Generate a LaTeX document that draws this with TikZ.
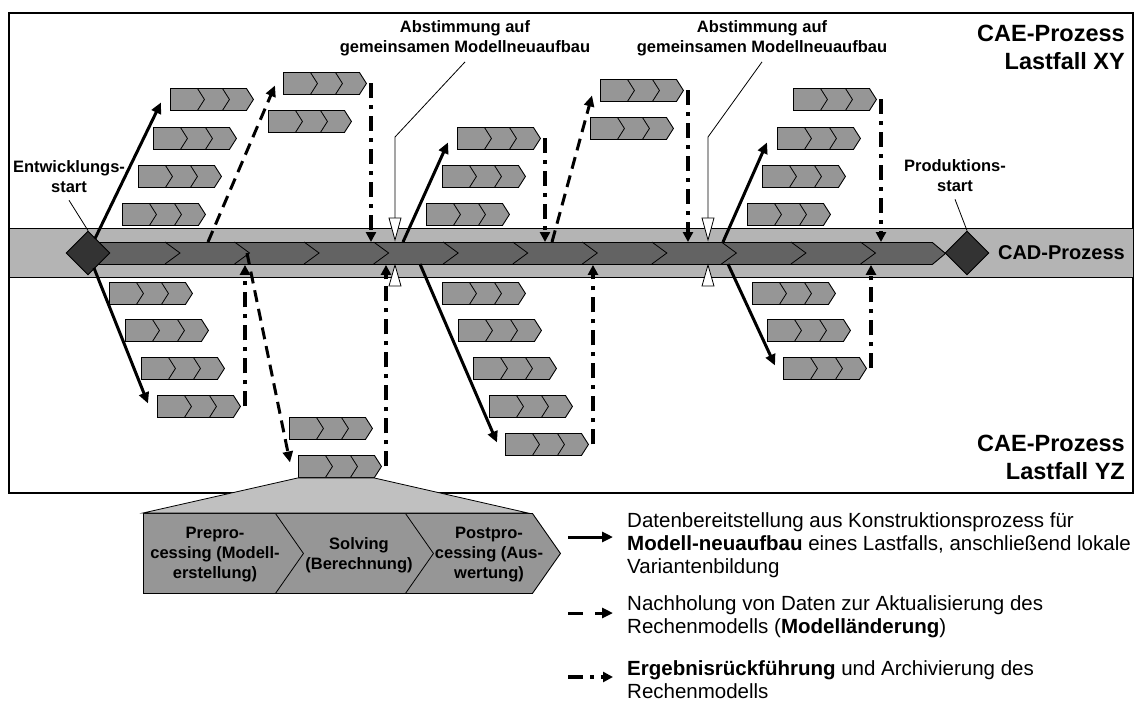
\documentclass[tikz,border=0pt]{standalone}
\usepackage{fontspec}
\setmainfont{Liberation Sans}
\definecolor{caegray}{RGB}{150,150,150}
\definecolor{cadgray}{RGB}{99,99,99}
\definecolor{bandgray}{RGB}{180,180,180}
\definecolor{zoomgray}{RGB}{192,192,192}
\definecolor{msgray}{RGB}{51,51,51}
\usetikzlibrary{calc}
\usetikzlibrary{positioning}
\usetikzlibrary{arrows.meta,shapes.geometric,shapes.symbols}

\tikzset{
  cae/.style={signal, signal to=east, signal pointer angle=115, draw, fill=caegray,
    line width=0.9pt, minimum width=83pt, minimum height=22pt, inner sep=0pt, anchor=north west,
    path picture={
      \foreach \d in {27,52}
        \draw[line width=0.8pt] ([xshift=\d pt]path picture bounding box.north west) -- ++(7pt,-11pt) -- ++(-7pt,-11pt);
    }},
  milestone/.style={diamond, draw, fill=msgray, line width=0.9pt, minimum size=44pt, inner sep=0pt},
  neubau/.style={line width=3pt, -{Triangle[length=11pt,width=10pt]}},
  aenderung/.style={line width=3pt, dash pattern=on 12pt off 7pt, -{Triangle[length=11pt,width=10pt]}},
  rueck/.style={line width=3.5pt, dash pattern=on 15pt off 7pt on 4pt off 7pt, -{Triangle[length=10pt,width=10pt]}},
  lbl/.style={font=\fontsize{16.5}{20}\selectfont\bfseries, align=center, inner sep=0pt},
  caelabel/.style={font=\fontsize{23.5}{28}\selectfont\bfseries, align=right, inner sep=0pt, anchor=east},
  legend/.style={font=\fontsize{20.5}{23}\selectfont, align=left, inner sep=0pt, anchor=base west},
  marktri/.style={fill=white, draw, line width=0.8pt}
}

\begin{document}
\begin{tikzpicture}[x=1pt, y=-1pt]
  \useasboundingbox (0,0) rectangle (1141,702);

  % frame, CAD band and the CAD chevron strip
  \draw[line width=1.3pt] (9,13) rectangle (1133,493);
  \node[draw, line width=1.3pt, fill=bandgray, minimum width=1124pt, minimum height=49pt, inner sep=0pt, anchor=north west] (cad) at (9,228) {};
  \node[signal, signal to=east, signal pointer angle=80, draw, fill=cadgray, line width=0.9pt, minimum width=850pt, minimum height=22pt, inner sep=0pt, anchor=north west] (strip) at (95,242) {};
  \foreach \i in {0,...,10}
    \draw[line width=0.8pt] ($(strip.north west)+(70+69.55*\i,0)$) -- ++(15,11) -- ++(-15,11);

  \node[milestone] (dstart) at (88,253) {};
  \node[milestone] (dend) at (967,253) {};
  \node[font=\fontsize{20}{24}\selectfont\bfseries, anchor=east, inner sep=0pt] (cadlabel) at (1125,253) {CAD-Prozess};

  % CAE boxes, load case XY (above) and YZ (below)
  \foreach \n/\x/\y in {A1/170/88, A2/153/127, A3/138/165, A4/122/203, B1/283/72, B2/268/110,
                        C1/457/127, C2/442/165, C3/426/203, D1/600/79, D2/590/117,
                        E1/793/88, E2/777/127, E3/762/165, E4/747/203}
    \node[cae] (\n) at (\x,\y) {};
  \foreach \n/\x/\y in {F1/109/282, F2/125/319, F3/141/357, F4/157/395, G1/289/417, G2/298/455,
                        H1/442/282, H2/458/319, H3/473/357, H4/489/395, H5/505/433,
                        I1/752/282, I2/767/319, I3/783/357}
    \node[cae] (\n) at (\x,\y) {};

  \coordinate (n1) at (403,242);
  \coordinate (n2) at (420,264);
  \coordinate (n3) at (723,242);
  \coordinate (n4) at (728,264);
  \coordinate (m1) at (208,242);
  \coordinate (m2) at (552,242);
  \coordinate (m3) at (247,253);

  \draw[neubau, shorten <=16pt] (dstart.center) -- ([xshift=-9pt,yshift=-3pt]A1.west);
  \draw[neubau, shorten <=16pt] (dstart.center) -- ([xshift=-9pt,yshift=3pt]F4.west);
  \draw[neubau] (n1) -- ([xshift=-9pt,yshift=-4pt]C1.west);
  \draw[neubau] (n2) -- ([xshift=-8pt,yshift=2pt]H5.west);
  \draw[neubau] (n3) -- ([xshift=-10pt,yshift=-4pt]E2.west);
  \draw[neubau] (n4) -- ([xshift=-8pt,yshift=3pt]I3.west);

  \draw[aenderung] (m1) -- ([xshift=-8pt,yshift=-2pt]B1.west);
  \draw[aenderung] (m2) -- ([xshift=-8pt,yshift=-5pt]D1.west);
  \draw[aenderung] (m3) -- ([xshift=-8pt,yshift=4pt]G2.west);

  \foreach \b in {B1,C1,D1,E1}
    \draw[rueck, transform canvas={xshift=4pt}] (\b.east) -- (\b.east |- strip.north);
  \foreach \b in {F4,G2,H5,I3}
    \draw[rueck, transform canvas={xshift=4pt}] (\b.east) -- (\b.east |- strip.south);

  % milestones and agreements
  \node[lbl] (ent) at (69,177) {Entwicklungs-\\start};
  \node[lbl] (prod) at (955,176) {Produktions-\\start};
  \draw[line width=0.8pt] (ent.south) ++(0,7) -- (dstart.north);
  \draw[line width=0.8pt] (prod.south) ++(0,7) -- (dend.north);

  \node[lbl] (ab1) at (465,38) {Abstimmung auf\\gemeinsamen Modellneuaufbau};
  \node[lbl] (ab2) at (762,38) {Abstimmung auf\\gemeinsamen Modellneuaufbau};
  \coordinate (t1) at (395,240);
  \coordinate (t2) at (708,240);
  \draw[line width=0.8pt] (ab1.south) ++(0,6) -- ($(t1)+(0,-103)$) -- ($(t1)+(0,-22)$);
  \draw[line width=0.8pt] (ab2.south) ++(0,6) -- ($(t2)+(0,-103)$) -- ($(t2)+(0,-22)$);
  \foreach \t in {t1,t2} {
    \draw[marktri] (\t) -- ++(-6,-22) -- ++(12,0) -- cycle;
    \draw[marktri] ($(\t)+(0,25)$) -- ++(-6,21) -- ++(12,0) -- cycle;
  }

  \node[caelabel] (xy) at (1125,47) {CAE-Prozess\\Lastfall XY};
  \node[caelabel] (yz) at (1125,457) {CAE-Prozess\\Lastfall YZ};

  % enlarged CAE box
  \node[signal, signal to=east, signal pointer angle=110, draw, fill=caegray, line width=0.9pt,
        minimum width=417pt, minimum height=80pt, inner sep=0pt, anchor=north west,
        path picture={
          \foreach \d in {132,262}
            \draw[line width=0.8pt] ([xshift=\d pt]path picture bounding box.north west) -- ++(28pt,-40pt) -- ++(-28pt,-40pt);
        }] (big) at (143,513) {};
  \filldraw[fill=zoomgray, line width=0.8pt] (G2.south west) -- (big.north west) -- ($(big.north west)+(385,0)$) -- ($(G2.south west)+(76,0)$) -- cycle;
  \node[lbl] (pre) at (215,555) {Prepro-\\cessing (Modell-\\erstellung)};
  \node[lbl] (solv) at (359,555) {Solving\\(Berechnung)};
  \node[lbl] (post) at (489,555) {Postpro-\\cessing (Aus-\\wertung)};

  % legend (base anchor sits on the last line)
  \node[legend] (leg1) at (627,573) {Datenbereitstellung aus Konstruktionsprozess für\\\textbf{Modell-neuaufbau} eines Lastfalls, anschließend lokale\\Variantenbildung};
  \node[legend] (leg2) at (627,633) {Nachholung von Daten zur Aktualisierung des\\Rechenmodells (\textbf{Modelländerung})};
  \node[legend] (leg3) at (627,698) {\textbf{Ergebnisrückführung} und Archivierung des\\Rechenmodells};
  \coordinate (l1) at (568,537);
  \coordinate (l2) at (568,613);
  \coordinate (l3) at (568,677);
  \draw[neubau] (l1) -- ++(45,0);
  \draw[aenderung, dash pattern=on 15pt off 12pt] (l2) -- ++(45,0);
  \draw[rueck] (l3) -- ++(45,0);
\end{tikzpicture}
\end{document}
